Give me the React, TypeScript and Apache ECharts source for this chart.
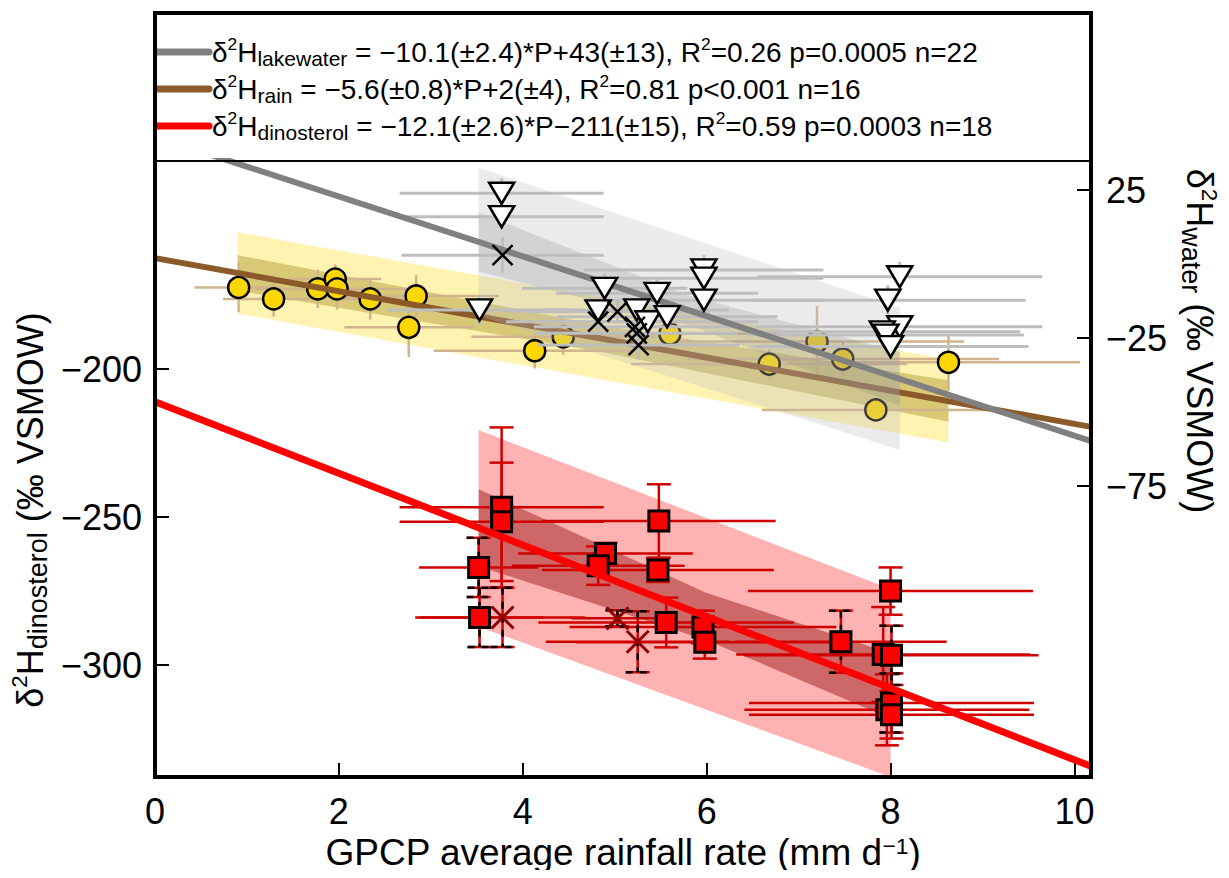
import React, { useEffect, useRef } from 'react';
import * as echarts from 'echarts';

const FONT = '"Liberation Sans", Arial, Helvetica, sans-serif';

// ---- axes ----
const X_MIN = 0;
const X_MAX = 10.18;
const DINO_MIN = -337.8;
const DINO_MAX = -129.7;
const WATER_MIN = -173.3;
const WATER_MAX = 34.8;
const xTicks = [0, 2, 4, 6, 8, 10];
const dinoTicks = [-300, -250, -200];
const waterTicks = [-75, -25, 25];

// ---- regression fits (lakewater, rain, dinosterol) ----
const fitKeys = ['lakewater', 'rain', 'dinosterol'];
const fitColors = ['#808080', '#8B5A2B', '#FF0000'];
const fitSlopes = [-10.1, -5.6, -12.1];
const fitIntercepts = [43, 2, -211];
const fitSlopeText = ['−10.1(±2.4)', '−5.6(±0.8)', '−12.1(±2.6)'];
const fitInterceptText = ['+43(±13)', '+2(±4)', '−211(±15)'];
const fitR2Text = ['0.26', '0.81', '0.59'];
const fitPText = ['p=0.0005', 'p<0.001', 'p=0.0003'];
const fitNText = ['22', '16', '18'];

// ---- rain (yellow circles), right axis ----
const rainP = [0.91, 1.29, 1.77, 1.96, 1.98, 2.34, 2.84, 2.76, 4.13, 4.44, 5.60, 6.68, 7.20, 7.48, 7.84, 8.63];
const rainD = [-7.9, -11.8, -8.4, -5.1, -8.4, -11.8, -10.8, -21.4, -29.3, -24.6, -23.6, -33.8, -26.2, -32.1, -49.3, -33.2];
const rainPErr = [0.48, 0.55, 0.35, 0.5, 0.9, 0.4, 0.9, 0.7, 1.1, 1.0, 1.2, 1.5, 1.6, 1.7, 1.24, 1.43];
const rainDErr = [8.4, 6, 6.5, 5, 7, 7, 7, 10, 6, 6, 6, 5, 12, 6, 3, 9.6];

// ---- lake water (triangles), right axis ----
const lakeP = [3.77, 3.77, 3.53, 4.89, 4.82, 5.24, 5.46, 5.36, 5.57, 5.97, 5.97, 5.97, 8.10, 7.97, 8.10, 7.91, 7.95, 8.00];
const lakeD = [23.9, 16.0, -15.5, -8.2, -15.8, -15.5, -9.9, -19.5, -17.8, -2.0, -4.8, -12.2, -4.3, -12.2, -21.2, -22.9, -24.0, -27.9];
const lakePErr = [1.11, 1.11, 1.0, 0.9, 1.0, 1.0, 1.1, 1.2, 1.2, 1.3, 1.3, 1.3, 1.55, 1.5, 1.55, 1.5, 1.5, 1.5];
const lakeDErr = [5, 4, 5, 5, 4, 4, 5, 4, 4, 5, 4, 4, 5, 5, 4, 3, 3, 3];

// ---- lake water (crosses), right axis ----
const lakeXP = [3.78, 4.82, 5.03, 5.22, 5.24, 5.26];
const lakeXD = [3.0, -19.5, -16.1, -21.2, -23.4, -27.4];
const lakeXPErr = [1.1, 1.0, 1.0, 1.1, 1.1, 1.1];
const lakeXDErr = [6, 4, 4, 4, 4, 5];

// ---- dinosterol (red squares), left axis ----
const dinoP = [3.77, 3.77, 3.52, 3.53, 5.48, 5.47, 4.90, 4.82, 5.56, 5.96, 5.98, 8.00, 7.46, 7.92, 8.01, 7.96, 8.01, 8.01];
const dinoD = [-246.7, -251.6, -267.0, -283.9, -251.3, -267.9, -262.3, -266.4, -285.6, -287.1, -292.3, -275.0, -292.1, -296.4, -296.7, -315.1, -312.8, -316.8];
const dinoPErr = [1.11, 1.11, 0.65, 0.7, 1.27, 1.26, 0.95, 0.94, 1.39, 1.45, 1.4, 1.55, 1.15, 1.6, 1.6, 1.55, 1.55, 1.55];
const dinoDErr = [27, 20, 10, 10, 12.4, 4, 3.6, 6.5, 8.4, 5.5, 5.5, 8, 10.5, 16, 10, 12, 10, 8];
const dinoDashed = [0, 0, 1, 1, 0, 0, 0, 0, 0, 0, 0, 0, 1, 0, 1, 0, 1, 0];

// ---- dinosterol (dark red crosses), left axis ----
const dinoXP = [3.78, 5.03, 5.25];
const dinoXD = [-283.9, -284.2, -292.1];
const dinoXPErr = [0.9, 0.5, 1.0];
const dinoXDErr = [10, 2.7, 10.3];

// ---- prediction / confidence bands: [P, lower, upper] ----
const rainBandOuter = [[0.9, -16.7, 10.7], [8.63, -60.3, -32.3]];
const rainBandInner = [[0.9, -9.0, 3.0], [4.8, -29.4, -20.4], [8.63, -53.3, -39.3]];
const lakeBandOuter = [[3.52, -17.5, 32.5], [8.1, -62.8, -14.8]];
const lakeBandInner = [[3.52, -2.5, 17.4], [5.8, -20.6, -10.6], [8.1, -47.8, -29.8]];
const dinoBandOuter = [[3.52, -287.0, -220.6], [8.0, -337.8, -274.3]];
const dinoBandInner = [[3.52, -266.6, -240.6], [6.0, -291.6, -275.6], [8.0, -318.0, -296.0]];

const rich = (fs: number) => ({
  n: { fontSize: fs, fontFamily: FONT, color: '#000', fill: '#000', lineHeight: fs * 1.2 },
  sup: { fontSize: fs * 0.62, fontFamily: FONT, color: '#000', fill: '#000', lineHeight: fs * 0.91, verticalAlign: 'top' },
  sub: { fontSize: fs * 0.75, fontFamily: FONT, color: '#000', fill: '#000', lineHeight: fs * 0.67, verticalAlign: 'bottom' },
});

function bandSeries(band: number[][], color: string, yAxisIndex: number, z: number) {
  return {
    type: 'custom',
    yAxisIndex,
    z,
    silent: true,
    data: [[band[0][0], band[0][1]]],
    encode: { x: 0, y: 1 },
    renderItem: (params: any, api: any) => {
      const pts: number[][] = [];
      band.forEach((b) => pts.push(api.coord([b[0], b[2]])));
      band.slice().reverse().forEach((b) => pts.push(api.coord([b[0], b[1]])));
      return { type: 'polygon', shape: { points: pts }, style: { fill: color } };
    },
  };
}

function errorSeries(
  p: number[], d: number[], pe: number[], de: number[], dashed: number[] | null,
  color: string, yAxisIndex: number, z: number, caps: boolean, lw: number
) {
  const rows = p.map((v, i) => [v, d[i], pe[i], de[i], dashed ? dashed[i] : 0]);
  return {
    type: 'custom',
    yAxisIndex,
    z,
    silent: true,
    data: rows,
    encode: { x: 0, y: 1 },
    renderItem: (params: any, api: any) => {
      const x = api.value(0), y = api.value(1), xe = api.value(2), ye = api.value(3), ds = api.value(4);
      const l = api.coord([x - xe, y]);
      const r = api.coord([x + xe, y]);
      const t = api.coord([x, y + ye]);
      const b = api.coord([x, y - ye]);
      const st = { stroke: color, lineWidth: lw };
      const children: any[] = [
        { type: 'line', shape: { x1: l[0], y1: l[1], x2: r[0], y2: r[1] }, style: st },
        { type: 'line', shape: { x1: t[0], y1: t[1], x2: b[0], y2: b[1] }, style: st },
      ];
      const cw = 12;
      if (caps) {
        children.push({ type: 'line', shape: { x1: t[0] - cw, y1: t[1], x2: t[0] + cw, y2: t[1] }, style: st });
        children.push({ type: 'line', shape: { x1: b[0] - cw, y1: b[1], x2: b[0] + cw, y2: b[1] }, style: st });
      }
      if (ds) {
        const dst = { stroke: '#000', lineWidth: lw, lineDash: [7, 7] };
        children.push({ type: 'line', shape: { x1: t[0], y1: t[1], x2: b[0], y2: b[1] }, style: dst });
        children.push({ type: 'line', shape: { x1: t[0] - cw, y1: t[1], x2: t[0] + cw, y2: t[1] }, style: dst });
        children.push({ type: 'line', shape: { x1: b[0] - cw, y1: b[1], x2: b[0] + cw, y2: b[1] }, style: dst });
      }
      return { type: 'group', children };
    },
  };
}

function fitLine(i: number, yAxisIndex: number, z: number, width: number) {
  return {
    type: 'line',
    yAxisIndex,
    z,
    silent: true,
    clip: true,
    symbol: 'none',
    lineStyle: { color: fitColors[i], width },
    data: [
      [X_MIN, fitIntercepts[i] + fitSlopes[i] * X_MIN],
      [X_MAX, fitIntercepts[i] + fitSlopes[i] * X_MAX],
    ],
  };
}

const CROSS = 'path://M0,0L10,10M10,0L0,10';

export default function App() {
  const ref = useRef<HTMLDivElement>(null);
  useEffect(() => {
    if (!ref.current) return;
    const chart = echarts.init(ref.current, undefined, { renderer: 'svg' });
    const G = { left: 155, right: 1091, top: 161, bottom: 777 };

    const legendGraphics: any[] = [];
    fitKeys.forEach((k, i) => {
      const y = 52 + i * 37;
      legendGraphics.push({
        type: 'line', z: 100,
        shape: { x1: 157, y1: y, x2: 209, y2: y },
        style: { stroke: fitColors[i], lineWidth: 7, lineCap: 'round' },
      });
      legendGraphics.push({
        type: 'text', z: 100, x: 212, y,
        style: {
          text: `{n|δ}{sup|2}{n|H}{sub|${k}}{n| = ${fitSlopeText[i]}*P${fitInterceptText[i]}, R}{sup|2}{n|=${fitR2Text[i]} ${fitPText[i]} n=${fitNText[i]}}`,
          rich: rich(28),
          align: 'left',
          verticalAlign: 'middle',
        },
      });
    });

    const tickStyle = { color: '#000', width: 2 };
    const option: any = {
      animation: false,
      backgroundColor: '#fff',
      grid: { left: G.left, top: G.top, width: G.right - G.left, height: G.bottom - G.top, containLabel: false },
      xAxis: {
        type: 'value',
        min: X_MIN,
        max: X_MAX,
        axisLine: { show: false, onZero: false },
        splitLine: { show: false },
        axisTick: { show: true, inside: true, length: 14, lineStyle: tickStyle, customValues: xTicks },
        axisLabel: { fontSize: 36, fontFamily: FONT, color: '#000', margin: 16, customValues: xTicks },
        name: 'GPCP average rainfall rate (mm d{sup|−1})',
        nameLocation: 'middle',
        nameGap: 57,
        nameTextStyle: { fontSize: 37, fontFamily: FONT, color: '#000', rich: rich(37) },
      },
      yAxis: [
        {
          type: 'value',
          position: 'left',
          min: DINO_MIN,
          max: DINO_MAX,
          axisLine: { show: false, onZero: false },
          splitLine: { show: false },
          axisTick: { show: true, inside: true, length: 14, lineStyle: tickStyle, customValues: dinoTicks },
          axisLabel: { fontSize: 36, fontFamily: FONT, color: '#000', margin: 13, customValues: dinoTicks, formatter: (v: number) => String(v).replace('-', '−') },
        },
        {
          type: 'value',
          position: 'right',
          min: WATER_MIN,
          max: WATER_MAX,
          alignTicks: false,
          axisLine: { show: false, onZero: false },
          splitLine: { show: false },
          axisTick: { show: true, inside: true, length: 14, lineStyle: tickStyle, customValues: waterTicks },
          axisLabel: { fontSize: 36, fontFamily: FONT, color: '#000', margin: 15, customValues: waterTicks, formatter: (v: number) => String(v).replace('-', '−') },
        },
      ],
      graphic: [
        ...legendGraphics,
        {
          type: 'rect', z: 101,
          shape: { x: G.left, y: 13, width: G.right - G.left, height: G.bottom - 13 },
          style: { fill: 'none', stroke: '#000', lineWidth: 4 },
        },
        {
          type: 'line', z: 101,
          shape: { x1: G.left, y1: G.top, x2: G.right, y2: G.top },
          style: { stroke: '#000', lineWidth: 2 },
        },
        {
          type: 'text', z: 100, x: 30, y: 510, rotation: Math.PI / 2,
          style: {
            text: '{n|δ}{sup|2}{n|H}{sub|dinosterol}{n| (‰ VSMOW)}',
            rich: rich(36), align: 'center', verticalAlign: 'middle',
          },
        },
        {
          type: 'text', z: 100, x: 1199, y: 341, rotation: -Math.PI / 2,
          style: {
            text: '{n|δ}{sup|2}{n|H}{sub|water}{n| (‰ VSMOW)}',
            rich: rich(36), align: 'center', verticalAlign: 'middle',
          },
        },
      ],
      series: [
        // rain
        bandSeries(rainBandOuter, 'rgba(255,215,0,0.3)', 1, 1),
        bandSeries(rainBandInner, 'rgba(139,115,0,0.33)', 1, 2),
        errorSeries(rainP, rainD, rainPErr, rainDErr, null, '#D2B48C', 1, 3, false, 2.5),
        {
          type: 'scatter', yAxisIndex: 1, z: 4, silent: true,
          symbol: 'circle', symbolSize: 21,
          itemStyle: { color: '#FFD700', borderColor: '#000', borderWidth: 2.5, opacity: 1 },
          data: rainP.map((v, i) => [v, rainD[i]]),
        },
        fitLine(1, 1, 5, 6),
        // lake
        bandSeries(lakeBandOuter, 'rgba(190,190,190,0.3)', 1, 6),
        bandSeries(lakeBandInner, 'rgba(128,128,128,0.22)', 1, 7),
        errorSeries(lakeP, lakeD, lakePErr, lakeDErr, null, '#BEBEBE', 1, 8, false, 3),
        errorSeries(lakeXP, lakeXD, lakeXPErr, lakeXDErr, null, '#BEBEBE', 1, 8, false, 3),
        fitLine(0, 1, 9, 6),
        {
          type: 'scatter', yAxisIndex: 1, z: 10, silent: true,
          symbol: 'triangle', symbolRotate: 180, symbolSize: [25, 21],
          itemStyle: { color: '#fff', borderColor: '#000', borderWidth: 2.5, opacity: 1 },
          data: lakeP.map((v, i) => [v, lakeD[i]]),
        },
        {
          type: 'scatter', yAxisIndex: 1, z: 10, silent: true,
          symbol: CROSS, symbolSize: 20,
          itemStyle: { color: 'rgba(0,0,0,0)', borderColor: '#000', borderWidth: 2.5, opacity: 1 },
          data: lakeXP.map((v, i) => [v, lakeXD[i]]),
        },
        // dinosterol
        bandSeries(dinoBandOuter, 'rgba(255,0,0,0.3)', 0, 1),
        bandSeries(dinoBandInner, 'rgba(139,0,0,0.42)', 0, 2),
        errorSeries(dinoP, dinoD, dinoPErr, dinoDErr, dinoDashed, '#D00000', 0, 3, true, 2.5),
        errorSeries(dinoXP, dinoXD, dinoXPErr, dinoXDErr, [1, 1, 1], '#D00000', 0, 3, true, 2.5),
        {
          type: 'scatter', yAxisIndex: 0, z: 11, silent: true,
          symbol: 'rect', symbolSize: 20,
          itemStyle: { color: '#FF0000', borderColor: '#000', borderWidth: 3, opacity: 1 },
          data: dinoP.map((v, i) => [v, dinoD[i]]),
        },
        {
          type: 'scatter', yAxisIndex: 0, z: 11, silent: true,
          symbol: CROSS, symbolSize: 22,
          itemStyle: { color: 'rgba(0,0,0,0)', borderColor: '#8B0000', borderWidth: 3, opacity: 1 },
          data: dinoXP.map((v, i) => [v, dinoXD[i]]),
        },
        fitLine(2, 0, 12, 7),
      ],
    };
    chart.setOption(option);
    return () => chart.dispose();
  }, []);
  return <div ref={ref} style={{ width: 1229, height: 878, margin: -8 }} />;
}
